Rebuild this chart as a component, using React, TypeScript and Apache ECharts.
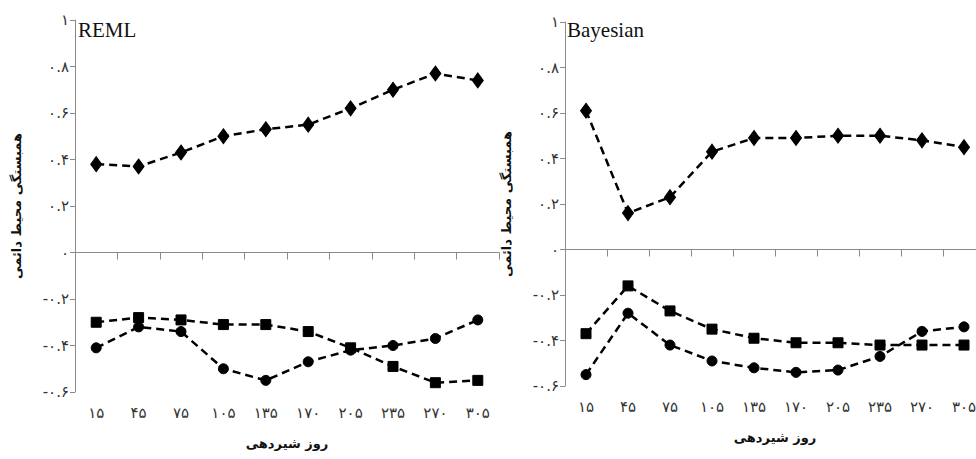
import React, { useEffect, useRef } from "react";
import * as echarts from "echarts";

const categories = ["۱۵", "۴۵", "۷۵", "۱۰۵", "۱۳۵", "۱۷۰", "۲۰۵", "۲۳۵", "۲۷۰", "۳۰۵"];
const yTickLabels = ["-۰.۶", "-۰.۴", "-۰.۲", "۰", "۰.۲", "۰.۴", "۰.۶", "۰.۸", "۱"];

const remlDiamond = [0.38, 0.37, 0.43, 0.5, 0.53, 0.55, 0.62, 0.7, 0.77, 0.74];
const remlSquare = [-0.3, -0.28, -0.29, -0.31, -0.31, -0.34, -0.41, -0.49, -0.56, -0.55];
const remlCircle = [-0.41, -0.32, -0.34, -0.5, -0.55, -0.47, -0.42, -0.4, -0.37, -0.29];

const bayesDiamond = [0.61, 0.16, 0.23, 0.43, 0.49, 0.49, 0.5, 0.5, 0.48, 0.45];
const bayesSquare = [-0.37, -0.16, -0.27, -0.35, -0.39, -0.41, -0.41, -0.42, -0.42, -0.42];
const bayesCircle = [-0.55, -0.28, -0.42, -0.49, -0.52, -0.54, -0.53, -0.47, -0.36, -0.34];

const panelTitles = ["REML", "Bayesian"];
const yAxisTitle = "همبستگی محیط دائمی";
const xAxisTitle = "روز شیردهی";

export default function App() {
  const ref = useRef<HTMLDivElement>(null);

  useEffect(() => {
    if (!ref.current) return;
    const chart = echarts.init(ref.current, null, { renderer: "svg" });
    const digitFont = "'DejaVu Sans', sans-serif";

    const makeX = (gi: number) => ({
      type: "category",
      gridIndex: gi,
      data: categories,
      boundaryGap: true,
      axisLine: { lineStyle: { color: "#8a8a8a", width: 1 } },
      axisTick: { show: true, length: 7, alignWithLabel: false, lineStyle: { color: "#8a8a8a" } },
      axisLabel: { color: "#333", fontSize: 15, margin: 13, fontFamily: digitFont },
      name: xAxisTitle,
      nameLocation: "middle",
      nameGap: 45,
      nameTextStyle: { color: "#111", fontSize: 13, fontWeight: "bold", fontFamily: digitFont },
      splitLine: { show: false },
    });

    const makeY = (gi: number) => ({
      type: "value",
      gridIndex: gi,
      min: -0.6,
      max: 1,
      interval: 0.2,
      axisLine: { show: true, lineStyle: { color: "#8a8a8a", width: 1 } },
      axisTick: { show: true, length: 5, lineStyle: { color: "#8a8a8a" } },
      axisLabel: {
        color: "#333",
        fontSize: 15,
        margin: 6,
        fontFamily: digitFont,
        formatter: (_v: number, i: number) => yTickLabels[i] ?? "",
      },
      splitLine: { show: false },
      name: yAxisTitle,
      nameLocation: "middle",
      nameRotate: 90,
      nameGap: 52,
      nameTextStyle: { color: "#111", fontSize: 13, fontWeight: "bold", fontFamily: digitFont },
    });

    const line = { color: "#000", width: 2.5, type: [8, 5] };
    const mk = (gi: number, data: number[], symbol: string, size: any) => ({
      type: "line",
      xAxisIndex: gi,
      yAxisIndex: gi,
      data,
      symbol,
      symbolSize: size,
      lineStyle: line,
      itemStyle: { color: "#000", borderColor: "#000" },
      emphasis: { disabled: true },
    });

    chart.setOption({
      animation: false,
      backgroundColor: "#fff",
      grid: [
        { left: 75, top: 20, width: 424, height: 372, outerBoundsMode: "none" },
        { left: 565, top: 22, width: 420, height: 364, outerBoundsMode: "none" },
      ],
      xAxis: [makeX(0), makeX(1)],
      yAxis: [makeY(0), makeY(1)],
      graphic: [
        {
          type: "text",
          left: 78,
          top: 19,
          style: { text: panelTitles[0], fontSize: 21, fontFamily: "'Liberation Serif', serif", fill: "#111" },
        },
        {
          type: "text",
          left: 567,
          top: 19,
          style: { text: panelTitles[1], fontSize: 21, fontFamily: "'Liberation Serif', serif", fill: "#111" },
        },
      ],
      series: [
        mk(0, remlDiamond, "diamond", [11, 15]),
        mk(0, remlSquare, "rect", 10),
        mk(0, remlCircle, "circle", 10),
        mk(1, bayesDiamond, "diamond", [11, 15]),
        mk(1, bayesSquare, "rect", 10),
        mk(1, bayesCircle, "circle", 10),
      ],
    });

    return () => chart.dispose();
  }, []);

  return (
    <div
      style={{
        position: "fixed",
        left: 0,
        top: 0,
        width: 976,
        height: 459,
        overflow: "hidden",
        background: "#fff",
      }}
    >
      <div ref={ref} style={{ width: 1000, height: 459 }} />
    </div>
  );
}
